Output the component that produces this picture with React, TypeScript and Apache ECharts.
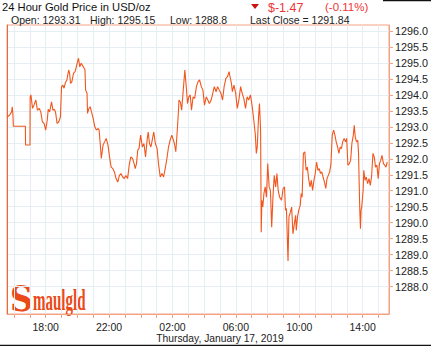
import React, { useEffect, useRef } from "react";
import * as echarts from "echarts";

// hours since midnight, Jan 16 2019 (24+ = Jan 17)
const times = [
  15.56, 15.73, 15.85, 15.89, 15.93, 15.96, 16.72, 16.73, 17.01, 17.02,
  17.07, 17.17, 17.26, 17.38, 17.48, 17.59, 17.69, 17.79, 17.90, 18.00,
  18.10, 18.16, 18.25, 18.37, 18.46, 18.54, 18.62, 18.72, 18.83, 18.93,
  19.00, 19.08, 19.16, 19.24, 19.34, 19.45, 19.51, 19.57, 19.65, 19.76,
  19.86, 19.96, 20.07, 20.15, 20.24, 20.38, 20.48, 20.52, 20.61, 20.64,
  20.73, 20.81, 20.89, 21.00, 21.10, 21.20, 21.31, 21.37, 21.45, 21.51,
  21.62, 21.72, 21.82, 21.93, 22.03, 22.13, 22.24, 22.34, 22.44, 22.55,
  22.65, 22.75, 22.86, 22.96, 23.06, 23.17, 23.27, 23.37, 23.48, 23.58,
  23.65, 23.73, 23.81, 23.89, 23.99, 24.10, 24.20, 24.30, 24.41, 24.47,
  24.55, 24.64, 24.72, 24.82, 24.92, 25.03, 25.13, 25.23, 25.34, 25.44,
  25.54, 25.65, 25.75, 25.85, 25.96, 26.06, 26.12, 26.21, 26.29, 26.37,
  26.41, 26.50, 26.58, 26.68, 26.78, 26.87, 26.95, 27.03, 27.12, 27.20,
  27.30, 27.40, 27.51, 27.61, 27.71, 27.82, 27.92, 28.02, 28.13, 28.23,
  28.33, 28.44, 28.54, 28.64, 28.75, 28.85, 28.95, 29.06, 29.16, 29.26,
  29.37, 29.47, 29.57, 29.63, 29.72, 29.78, 29.88, 29.99, 30.09, 30.19,
  30.30, 30.40, 30.50, 30.61, 30.71, 30.81, 30.92, 31.02, 31.12, 31.23,
  31.29, 31.35, 31.43, 31.49, 31.56, 31.60, 31.64, 31.70, 31.77, 31.85,
  31.93, 32.01, 32.10, 32.18, 32.26, 32.34, 32.42, 32.51, 32.59, 32.67,
  32.76, 32.88, 32.98, 33.07, 33.13, 33.19, 33.29, 33.35, 33.44, 33.52,
  33.60, 33.69, 33.77, 33.81, 33.89, 33.97, 34.06, 34.12, 34.18, 34.26,
  34.35, 34.43, 34.51, 34.59, 34.68, 34.76, 34.84, 34.93, 35.01, 35.09,
  35.18, 35.26, 35.34, 35.42, 35.50, 35.59, 35.67, 35.75, 35.83, 35.92,
  36.00, 36.08, 36.17, 36.25, 36.33, 36.42, 36.50, 36.58, 36.66, 36.74,
  36.83, 36.91, 36.99, 37.07, 37.16, 37.24, 37.32, 37.41, 37.47, 37.53,
  37.61, 37.69, 37.74, 37.78, 37.82, 37.86, 37.90, 37.94, 38.03, 38.07,
  38.15, 38.23, 38.31, 38.40, 38.48, 38.56, 38.65, 38.73, 38.81, 38.90,
  38.98, 39.06, 39.14, 39.22, 39.31, 39.39, 39.47, 39.55,
];

const prices = [
  1293.31, 1293.37, 1293.47, 1293.63, 1293.42, 1293.02, 1293.02, 1292.43, 1292.43, 1293.94,
  1294.00, 1293.58, 1293.68, 1293.84, 1293.52, 1293.58, 1293.47, 1293.16, 1293.11, 1292.90,
  1293.21, 1293.55, 1293.47, 1293.78, 1293.52, 1293.55, 1293.47, 1293.11, 1293.16, 1293.31,
  1294.26, 1294.31, 1294.21, 1294.38, 1294.47, 1294.78, 1294.68, 1294.36, 1294.41, 1294.68,
  1294.73, 1294.94, 1295.15, 1294.88, 1294.99, 1294.88, 1294.78, 1294.15, 1294.05, 1293.42,
  1293.58, 1293.63, 1293.47, 1293.26, 1293.00, 1292.90, 1292.95, 1292.90, 1292.43, 1292.01,
  1292.43, 1292.53, 1292.64, 1292.43, 1292.06, 1291.74, 1291.69, 1291.59, 1291.38, 1291.27,
  1291.48, 1291.54, 1291.43, 1291.38, 1291.48, 1291.38, 1291.80, 1292.06, 1292.01, 1291.85,
  1291.69, 1291.85, 1292.27, 1292.32, 1292.74, 1292.37, 1292.48, 1292.06, 1292.64, 1292.84,
  1292.48, 1292.37, 1292.58, 1292.84, 1292.48, 1292.32, 1291.80, 1291.43, 1291.54, 1291.43,
  1291.69, 1292.01, 1292.37, 1292.58, 1292.74, 1292.58, 1292.48, 1292.22, 1292.79, 1293.42,
  1293.84, 1293.78, 1293.52, 1294.15, 1294.78, 1294.26, 1293.73, 1293.94, 1294.00, 1293.52,
  1293.94, 1293.89, 1294.26, 1294.41, 1294.47, 1294.26, 1294.15, 1293.68, 1293.94, 1293.84,
  1293.73, 1293.84, 1294.05, 1294.26, 1294.10, 1294.26, 1294.15, 1294.05, 1293.84, 1294.26,
  1294.52, 1294.57, 1294.73, 1294.57, 1294.36, 1294.10, 1294.31, 1294.05, 1293.58, 1293.84,
  1294.26, 1294.05, 1293.89, 1293.58, 1293.94, 1293.84, 1294.00, 1293.68, 1293.26, 1292.74,
  1292.17, 1292.37, 1293.31, 1293.73, 1292.90, 1289.70, 1290.70, 1290.49, 1290.91, 1291.12,
  1290.80, 1291.85, 1291.12, 1291.01, 1289.86, 1290.80, 1291.48, 1291.12, 1291.54, 1291.01,
  1290.80, 1290.70, 1291.07, 1291.12, 1290.39, 1290.44, 1288.80, 1290.18, 1290.33, 1290.49,
  1289.65, 1289.97, 1290.23, 1289.76, 1290.18, 1290.39, 1290.54, 1290.91, 1290.80, 1292.17,
  1292.22, 1291.64, 1291.74, 1291.38, 1291.12, 1291.33, 1291.01, 1291.33, 1291.54, 1291.90,
  1291.64, 1291.69, 1291.54, 1291.59, 1291.43, 1291.27, 1291.07, 1291.38, 1291.48, 1291.59,
  1291.85, 1292.74, 1292.90, 1292.74, 1292.53, 1292.37, 1292.17, 1292.37, 1292.32, 1292.53,
  1292.64, 1292.53, 1292.64, 1291.80, 1291.85, 1291.95, 1292.48, 1292.74, 1293.05, 1292.69,
  1292.53, 1292.58, 1292.17, 1291.22, 1290.39, 1289.81, 1290.39, 1290.49, 1291.01, 1291.64,
  1291.33, 1291.43, 1291.22, 1291.38, 1291.17, 1291.43, 1292.17, 1292.06, 1291.74, 1291.80,
  1291.38, 1291.85, 1291.95, 1292.11, 1291.85, 1291.80, 1291.74, 1291.90,
];

const hourTicks = [16, 17, 18, 19, 20, 21, 22, 23, 24, 25, 26, 27, 28, 29, 30, 31, 32, 33, 34, 35, 36, 37, 38, 39];
const hourLabels = [18, 22, 26, 30, 34, 38];
const priceTicks = [
  1288, 1288.5, 1289, 1289.5, 1290, 1290.5, 1291, 1291.5, 1292, 1292.5,
  1293, 1293.5, 1294, 1294.5, 1295, 1295.5, 1296,
];

const title = "24 Hour Gold Price in USD/oz";
const statTexts = ["Open: 1293.31", "High: 1295.15", "Low: 1288.8", "Last Close = 1291.84"];
const changeText = "$-1.47";
const changePctText = "(-0.11%)";
const dateText = "Thursday, January 17, 2019";

const FONT = "'Liberation Sans', Arial, sans-serif";
const FRAME = "#f5a282";
const GRID = "#e6eef5";

export default function App() {
  const ref = useRef<HTMLDivElement>(null);
  useEffect(() => {
    const chart = echarts.init(ref.current!, null, { renderer: "svg" });
    const pad = (n: number) => (n < 10 ? "0" + n : "" + n);
    const statX = [11, 90, 170, 250];
    chart.setOption({
      animation: false,
      backgroundColor: "#ffffff",
      textStyle: { fontFamily: FONT },
      grid: {
        left: 7,
        right: 35,
        top: 25,
        bottom: 32,
        show: true,
        borderColor: FRAME,
        borderWidth: 1,
        backgroundColor: "#ffffff",
      },
      xAxis: {
        type: "value",
        min: 15.56,
        max: 39.66,
        axisLine: { show: true, lineStyle: { color: FRAME, width: 1 } },
        axisTick: {
          show: true,
          customValues: hourTicks,
          length: 4,
          lineStyle: { color: FRAME },
        },
        axisLabel: {
          customValues: hourLabels,
          formatter: (v: number) => pad(Math.round(v) % 24) + ":00",
          color: "#222",
          fontSize: 10.5,
          fontFamily: FONT,
          margin: 7,
        },
        splitLine: { show: true, lineStyle: { color: GRID, width: 1 } },
      },
      yAxis: [
        {
          type: "value",
          position: "right",
          min: 1287.14,
          max: 1296.19,
          axisLine: { show: true, lineStyle: { color: FRAME, width: 1 } },
          axisTick: {
            show: true,
            customValues: priceTicks,
            length: 4,
            lineStyle: { color: FRAME },
          },
          axisLabel: {
            customValues: priceTicks,
            formatter: (v: number) => v.toFixed(1),
            color: "#222",
            fontSize: 10.8,
            fontFamily: FONT,
            margin: 6,
          },
          splitLine: { show: true, lineStyle: { color: GRID, width: 1 } },
        },
        {
          type: "value",
          position: "left",
          min: 1287.14,
          max: 1296.19,
          axisLine: { show: true, lineStyle: { color: "#e8683f", width: 1 } },
          axisTick: { show: false },
          axisLabel: { show: false },
          splitLine: { show: false },
        },
      ],
      series: [
        {
          type: "line",
          data: times.map((t, i) => [t, prices[i]]),
          showSymbol: false,
          symbol: "none",
          lineStyle: { color: "#f2561c", width: 1.1 },
          itemStyle: { color: "#f2561c" },
        },
      ],
      graphic: [
        {
          type: "text",
          left: 2,
          top: 1,
          style: { text: title, fontSize: 11.2, fill: "#111", fontFamily: FONT },
        },
        ...statTexts.map((s, i) => ({
          type: "text",
          x: statX[i],
          y: 14,
          style: { text: s, fontSize: 10.5, fill: "#222", fontFamily: FONT },
        })),
        {
          type: "polygon",
          shape: { points: [[251, 4], [259, 4], [255, 9]] },
          style: { fill: "#cc1111" },
        },
        {
          type: "text",
          x: 268,
          y: 1,
          style: { text: changeText, fontSize: 12.5, fill: "#f03535", fontFamily: FONT },
        },
        {
          type: "text",
          x: 325,
          y: 1,
          style: { text: changePctText, fontSize: 11.5, fill: "#f03535", fontFamily: FONT },
        },
        {
          type: "text",
          x: 220,
          y: 333,
          style: { text: dateText, fontSize: 10.3, fill: "#222", fontFamily: FONT, textAlign: "center" },
        },
        {
          type: "text",
          x: 10,
          y: 281,
          scaleX: 0.9,
          style: {
            text: "S",
            fontSize: 35,
            fontWeight: "bold",
            fill: "#ea4a17",
            fontFamily: "'DejaVu Serif', 'Liberation Serif', serif",
          },
        },
        {
          type: "text",
          x: 33,
          y: 284.5,
          scaleX: 0.5,
          style: {
            text: "maulgld",
            fontSize: 30,
            fontWeight: "bold",
            fill: "#ea4a17",
            fontFamily: "'Liberation Serif', 'DejaVu Serif', serif",
          },
        },
        {
          type: "line",
          shape: { x1: 0, y1: 345.5, x2: 431, y2: 345.5 },
          style: { stroke: "#111", lineWidth: 1.5 },
        },
        {
          type: "line",
          shape: { x1: 383, y1: 0.5, x2: 431, y2: 0.5 },
          style: { stroke: "#111", lineWidth: 1.5 },
        },
      ],
    });
    return () => chart.dispose();
  }, []);
  return (
    <div
      ref={ref}
      style={{ position: "fixed", left: 0, top: 0, width: 431, height: 346, background: "#fff" }}
    />
  );
}
